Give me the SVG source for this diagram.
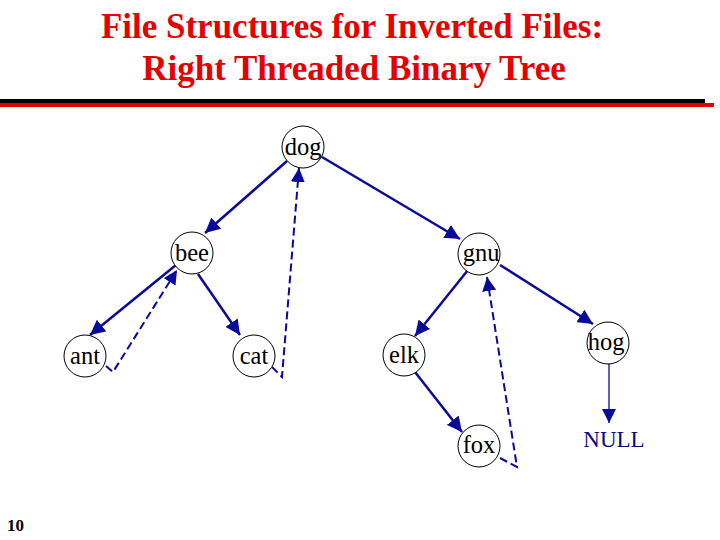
<svg xmlns="http://www.w3.org/2000/svg" width="720" height="540" viewBox="0 0 720 540">
<defs>
<style>
.title{font-family:"Liberation Serif","Times New Roman",serif;font-weight:bold;font-size:35px;fill:#e60000;text-anchor:middle}
.node circle{fill:#fff;stroke:#000;stroke-width:1}
.node text{font-family:"Liberation Serif","Times New Roman",serif;font-size:24.5px;fill:#000;text-anchor:middle}
.edge{stroke:#0a0a9a;stroke-width:2.5;fill:none}
.thread{stroke:#0a0a9a;stroke-width:2;fill:none;stroke-dasharray:8,4}
.thin{stroke:#0a0a9a;stroke-width:1.3;fill:none}
</style>
<marker id="ah" viewBox="0 0 10 10" refX="10" refY="5" markerWidth="6" markerHeight="6" markerUnits="strokeWidth" orient="auto">
<path d="M0,0 L10,5 L0,10 z" fill="#0a0a9a"/>
</marker>
<marker id="ah2" viewBox="0 0 10 10" refX="10" refY="5" markerWidth="7" markerHeight="7" markerUnits="strokeWidth" orient="auto">
<path d="M0,0 L10,5 L0,10 z" fill="#0a0a9a"/>
</marker>
<marker id="ah3" viewBox="0 0 10 10" refX="10" refY="5" markerWidth="11" markerHeight="11" markerUnits="strokeWidth" orient="auto">
<path d="M0,0 L10,5 L0,10 z" fill="#0a0a9a"/>
</marker>
</defs>
<rect width="720" height="540" fill="#fff"/>
<g id="title">
<text class="title" x="352" y="38">File Structures for Inverted Files:</text>
<text class="title" x="354" y="80">Right Threaded Binary Tree</text>
<rect x="0" y="99" width="705" height="4" fill="#000"/>
<rect x="0" y="103" width="714" height="4" fill="#e60000"/>
</g>
<g id="connectors">
<line class="edge" x1="287" y1="161" x2="205" y2="233" marker-end="url(#ah)"/>
<line class="edge" x1="322" y1="157" x2="460" y2="239" marker-end="url(#ah)"/>
<line class="edge" x1="176" y1="265" x2="90" y2="335" marker-end="url(#ah)"/>
<line class="edge" x1="198" y1="274" x2="240" y2="335" marker-end="url(#ah)"/>
<line class="edge" x1="468" y1="270" x2="415" y2="336" marker-end="url(#ah)"/>
<line class="edge" x1="500" y1="265" x2="593" y2="324" marker-end="url(#ah)"/>
<line class="edge" x1="415" y1="372" x2="462" y2="432" marker-end="url(#ah)"/>
<line class="thin" x1="609" y1="364" x2="609" y2="423" marker-end="url(#ah3)"/>
<polyline class="thread" points="106,366 113,372 177,270" marker-end="url(#ah2)"/>
<polyline class="thread" points="272,367 282,377 299,168" marker-end="url(#ah2)"/>
<polyline class="thread" points="500,458 517,467 487,277" marker-end="url(#ah2)"/>
</g>
<g id="dog" class="node"><circle cx="303" cy="147" r="21"/><text x="303" y="155">dog</text></g>
<g id="bee" class="node"><circle cx="192" cy="253" r="21"/><text x="192" y="261">bee</text></g>
<g id="gnu" class="node"><circle cx="479" cy="254" r="21"/><text x="481" y="261">gnu</text></g>
<g id="ant" class="node"><circle cx="85" cy="356" r="21"/><text x="85" y="364">ant</text></g>
<g id="cat" class="node"><circle cx="254" cy="356" r="21"/><text x="254" y="364">cat</text></g>
<g id="elk" class="node"><circle cx="404" cy="355" r="21"/><text x="404" y="363">elk</text></g>
<g id="hog" class="node"><circle cx="608" cy="343" r="21"/><text x="606" y="350">hog</text></g>
<g id="fox" class="node"><circle cx="479" cy="446" r="21"/><text x="479" y="453">fox</text></g>
<g id="null"><text x="614" y="447" font-family="Liberation Serif, Times New Roman, serif" font-size="23" fill="#0a0a80" text-anchor="middle">NULL</text></g>
<g id="page"><text x="7" y="531" font-family="Liberation Serif, Times New Roman, serif" font-size="17" font-weight="bold" fill="#000">10</text></g>
</svg>
